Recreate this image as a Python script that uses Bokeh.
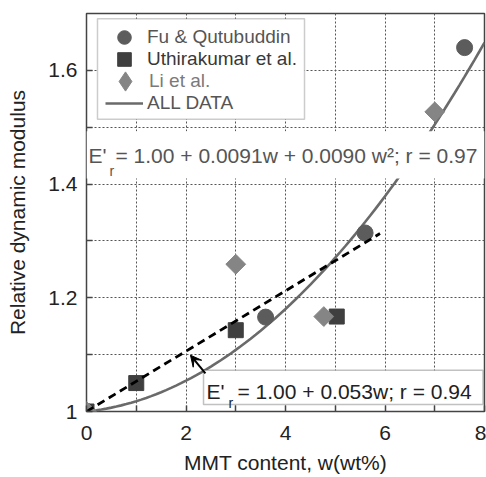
import numpy as np
from bokeh.plotting import figure
from bokeh.models import (FixedTicker, CustomJSTickFormatter, BoxAnnotation,
                          Label, Arrow, VeeHead, Legend, LegendItem, Range1d)
from bokeh.embed import file_html
from bokeh.resources import INLINE

# ---- data ----
fu_x = [0.0, 3.6, 5.6, 7.6]
fu_y = [1.0, 1.166, 1.314, 1.64]
uth_x = [0.0, 1.0, 3.0, 5.03]
uth_y = [1.0, 1.05, 1.143, 1.167]
li_x = [0.0, 3.0, 4.77, 7.0]
li_y = [1.0, 1.259, 1.167, 1.527]
quad_coef = [1.00, 0.0091, 0.0090]    # E'r = 1.00 + 0.0091w + 0.0090w^2 (ALL DATA fit)
lin_x = [0.0, 5.9]
lin_y = [1.0, 1.313]                  # E'r = 1.00 + 0.053w
x_ticks = [0, 2, 4, 6, 8]
x_minor = [1, 3, 5, 7]
y_ticks = [1.0, 1.2, 1.4, 1.6]
y_minor = [1.1, 1.3, 1.5]

FONT = "Liberation Sans"
INK = "#222222"
FRAME = "#444444"
C_FU, C_UTH, C_LI, C_FIT = "#5c5c5c", "#3f3f3f", "#858585", "#6a6a6a"

fit_x = np.linspace(0, 8, 81)
fit_y = quad_coef[0] + quad_coef[1] * fit_x + quad_coef[2] * fit_x ** 2

p = figure(width=486, height=477, x_range=Range1d(0, 8), y_range=Range1d(1.0, 1.7),
           output_backend="svg", toolbar_location=None,
           min_border_left=86, min_border_right=2, min_border_top=13, min_border_bottom=66)
p.background_fill_color = "white"
p.border_fill_color = "white"
p.outline_line_color = FRAME
p.outline_line_width = 1.5

xt = FixedTicker(ticks=x_ticks, minor_ticks=x_minor)
yt = FixedTicker(ticks=y_ticks, minor_ticks=y_minor)

for ax in (p.xaxis[0], p.yaxis[0]):
    ax.axis_line_color = None
    ax.major_tick_in = 6
    ax.major_tick_out = 0
    ax.minor_tick_in = 6
    ax.minor_tick_out = 0
    ax.major_tick_line_color = FRAME
    ax.minor_tick_line_color = FRAME
    ax.major_tick_line_width = 1.5
    ax.minor_tick_line_width = 1.5
    ax.major_label_text_font = FONT
    ax.major_label_text_font_size = "21px"
    ax.major_label_text_color = INK
    ax.axis_label_text_font = FONT
    ax.axis_label_text_font_size = "21px"
    ax.axis_label_text_font_style = "normal"
    ax.axis_label_text_color = INK

p.xaxis.ticker = xt
p.yaxis.ticker = yt
p.xaxis.major_label_standoff = 14
p.yaxis.major_label_standoff = 9
p.yaxis.formatter = CustomJSTickFormatter(code="return tick == 1 ? '1' : tick.toFixed(1);")
p.yaxis.axis_label = "Relative dynamic modulus"
p.yaxis.axis_label_standoff = 16
p.xaxis.axis_label = "MMT content, w(wt%)"
p.xaxis.axis_label_standoff = 8

for g, t in ((p.xgrid, xt), (p.ygrid, yt)):
    g.ticker = t
    g.grid_line_color = "#555555"
    g.grid_line_dash = "2 2"
    g.grid_line_width = 1
    g.minor_grid_line_color = "#555555"
    g.minor_grid_line_dash = "2 2"
    g.minor_grid_line_width = 1

# ---- glyphs ----
r_fit = p.line(fit_x, fit_y, line_color=C_FIT, line_width=2.6)
r_fu = p.scatter(fu_x, fu_y, marker="circle", size=16, fill_color=C_FU, line_color=C_FU)
r_uth = p.scatter(uth_x, uth_y, marker="square", size=15, fill_color=C_UTH, line_color=C_UTH)
r_li = p.scatter(li_x, li_y, marker="square", angle=np.pi / 4, size=14,
                 fill_color=C_LI, line_color=C_LI)
p.line(lin_x, lin_y, line_color="black", line_width=2.8, line_dash="8 5")
# legend key for Li et al. (legends ignore marker angle): same points, zero size in the plot
r_li_key = p.scatter(li_x, li_y, marker="diamond", size=0, fill_color=C_LI, line_color=C_LI)

# ---- equation 1 (quadratic) on a white band ----
p.add_layout(BoxAnnotation(left=0, right=8, bottom=1.41, top=1.493,
                           fill_color="white", fill_alpha=1, line_color=None))
eq_kw = dict(text_font=FONT, text_color="#555555", text_baseline="alphabetic")
p.add_layout(Label(x=0, y=1.4505, x_offset=2, text="E'", text_font_size="21px", **eq_kw))
p.add_layout(Label(x=0, y=1.4223, x_offset=23, text="r", text_font_size="14px", **eq_kw))
p.add_layout(Label(x=0, y=1.4505, x_offset=29,
                   text="= 1.00 + 0.0091w + 0.0090 w\u00b2; r = 0.97",
                   text_font_size="21px", **eq_kw))

# ---- equation 2 (linear) in a box with arrow ----
p.add_layout(BoxAnnotation(left=2.352, right=7.97, bottom=1.0124, top=1.0724,
                           fill_color="white", fill_alpha=1, line_color="#333333", line_width=1.5))
eq2_kw = dict(text_font=FONT, text_color=INK, text_baseline="alphabetic")
p.add_layout(Label(x=2.352, y=1.0353, x_offset=3, text="E'", text_font_size="21px", **eq2_kw))
p.add_layout(Label(x=2.352, y=1.0141, x_offset=25, text="r", text_font_size="14px", **eq2_kw))
p.add_layout(Label(x=2.352, y=1.0353, x_offset=34, text="= 1.00 + 0.053w; r = 0.94",
                   text_font_size="21px", **eq2_kw))
p.add_layout(Arrow(end=VeeHead(size=11, fill_color="black", line_color="black"),
                   x_start=2.39, y_start=1.067, x_end=2.09, y_end=1.099,
                   line_color="black", line_width=2))

# ---- legend: white box, then one single-item legend per row ----
p.add_layout(BoxAnnotation(left=0.221, right=4.382, bottom=1.5141, top=1.6908,
                           fill_color="white", fill_alpha=1, line_color="#555555", line_width=1.5))
# (label, renderer, text colour, x offset, bottom offset, glyph box w, glyph box h, standoff)
entries = [("Fu & Qutubuddin", r_fu, "#555555", 19, 357, 38, 34, 4),
           ("Uthirakumar et al.", r_uth, "#383838", 19, 335, 38, 34, 4),
           ("Li et al.", r_li_key, "#7a7a7a", 15, 306, 48, 48, 0),
           ("ALL DATA", r_fit, "#555555", 19, 291, 38, 34, 4)]
for lab, rend, col, xo, yb, gw, gh, so in entries:
    lg = Legend(items=[LegendItem(label=lab, renderers=[rend])],
                location=(xo, yb), glyph_width=gw, glyph_height=gh, spacing=0,
                padding=0, margin=0, label_standoff=so, label_height=gh,
                label_text_font=FONT, label_text_font_size="19px", label_text_color=col,
                border_line_color=None, background_fill_alpha=0)
    p.add_layout(lg)

open("out.html", "w").write(file_html(p, INLINE))
